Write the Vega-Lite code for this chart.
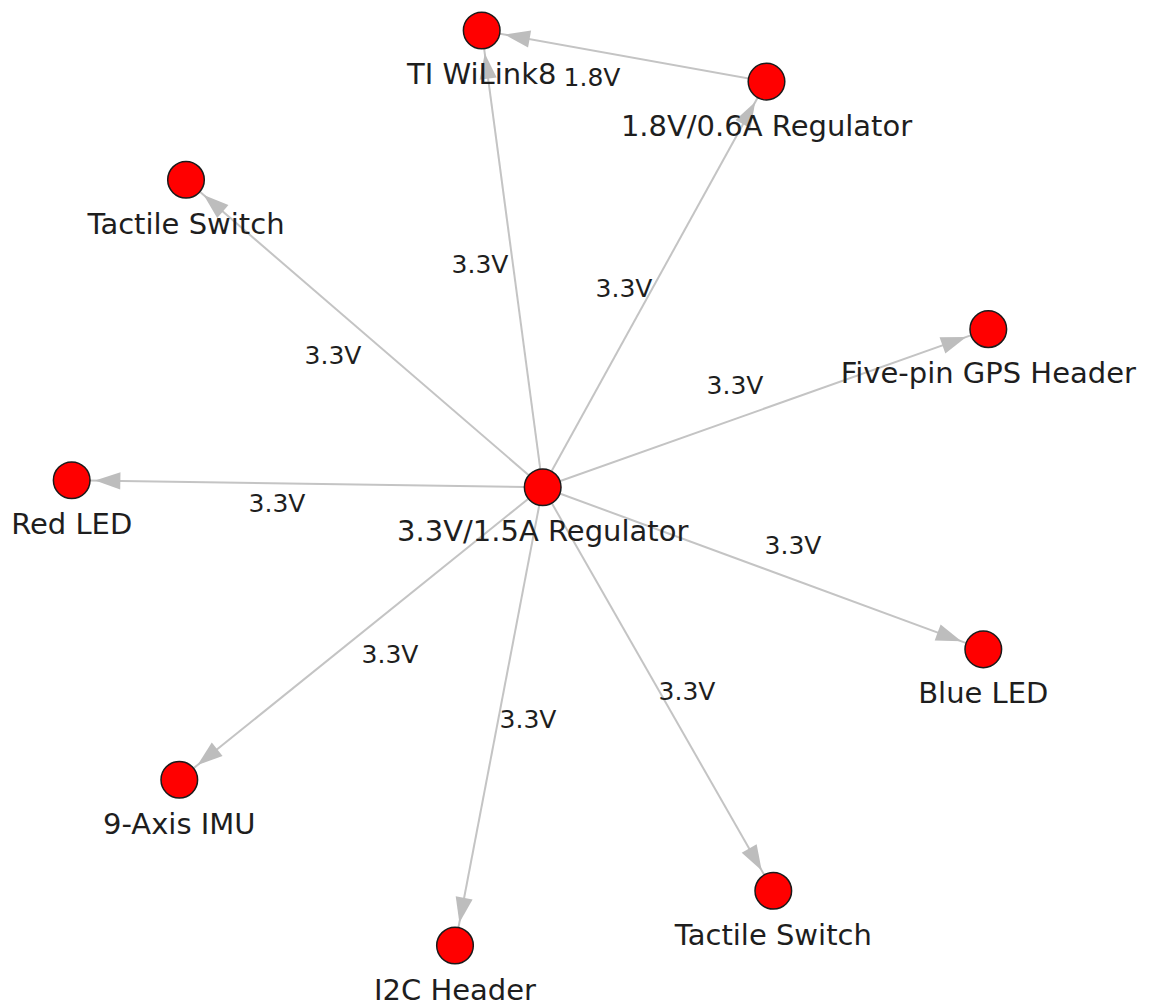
{
  "$schema": "https://vega.github.io/schema/vega-lite/v6.json",
  "width": 1152,
  "height": 1006,
  "autosize": {"type": "fit", "contains": "padding"},
  "padding": 0,
  "background": "white",
  "config": {"view": {"stroke": null}},
  "datasets": {
    "nodes": [
      {"id": "wilink", "label": "TI WiLink8", "x": 481.7, "y": 30.5},
      {"id": "reg18", "label": "1.8V/0.6A Regulator", "x": 766.5, "y": 81.7},
      {"id": "tact1", "label": "Tactile Switch", "x": 186, "y": 180},
      {"id": "gps", "label": "Five-pin GPS Header", "x": 988.3, "y": 329.5},
      {"id": "red", "label": "Red LED", "x": 71.7, "y": 480.7},
      {"id": "reg33", "label": "3.3V/1.5A Regulator", "x": 542.7, "y": 487.7},
      {"id": "blue", "label": "Blue LED", "x": 983.3, "y": 650},
      {"id": "imu", "label": "9-Axis IMU", "x": 179.3, "y": 780.5},
      {"id": "tact2", "label": "Tactile Switch", "x": 773.3, "y": 891.7},
      {"id": "i2c", "label": "I2C Header", "x": 455, "y": 946.5}
    ],
    "edges": [
      {"source": "reg18", "target": "wilink", "label": "1.8V", "lx": 592, "ly": 86},
      {"source": "reg33", "target": "wilink", "label": "3.3V", "lx": 480, "ly": 273},
      {"source": "reg33", "target": "reg18", "label": "3.3V", "lx": 624, "ly": 297},
      {"source": "reg33", "target": "tact1", "label": "3.3V", "lx": 333, "ly": 364},
      {"source": "reg33", "target": "gps", "label": "3.3V", "lx": 735, "ly": 394},
      {"source": "reg33", "target": "red", "label": "3.3V", "lx": 277, "ly": 513},
      {"source": "reg33", "target": "blue", "label": "3.3V", "lx": 793, "ly": 555},
      {"source": "reg33", "target": "imu", "label": "3.3V", "lx": 390, "ly": 664},
      {"source": "reg33", "target": "i2c", "label": "3.3V", "lx": 528, "ly": 729},
      {"source": "reg33", "target": "tact2", "label": "3.3V", "lx": 687, "ly": 701}
    ]
  },
  "layer": [
    {
      "data": {"name": "edges"},
      "transform": [
        {"lookup": "source", "from": {"data": {"name": "nodes"}, "key": "id", "fields": ["x", "y"]}, "as": ["sx", "sy"]},
        {"lookup": "target", "from": {"data": {"name": "nodes"}, "key": "id", "fields": ["x", "y"]}, "as": ["tx", "ty"]}
      ],
      "mark": {"type": "rule", "color": "#c4c4c4", "strokeWidth": 2},
      "encoding": {
        "x": {"field": "sx", "type": "quantitative", "scale": {"domain": [0, 1152], "nice": false, "zero": false}, "axis": null},
        "y": {"field": "sy", "type": "quantitative", "scale": {"domain": [0, 1006], "nice": false, "zero": false, "reverse": true}, "axis": null},
        "x2": {"field": "tx"},
        "y2": {"field": "ty"}
      }
    },
    {
      "data": {"name": "edges"},
      "transform": [
        {"lookup": "source", "from": {"data": {"name": "nodes"}, "key": "id", "fields": ["x", "y"]}, "as": ["sx", "sy"]},
        {"lookup": "target", "from": {"data": {"name": "nodes"}, "key": "id", "fields": ["x", "y"]}, "as": ["tx", "ty"]},
        {"calculate": "sqrt((datum.tx-datum.sx)*(datum.tx-datum.sx)+(datum.ty-datum.sy)*(datum.ty-datum.sy))", "as": "len"},
        {"calculate": "datum.tx-(datum.tx-datum.sx)/datum.len*36", "as": "ax"},
        {"calculate": "datum.ty-(datum.ty-datum.sy)/datum.len*36", "as": "ay"},
        {"calculate": "atan2(datum.tx-datum.sx, datum.sy-datum.ty)*180/PI", "as": "ang"}
      ],
      "mark": {"type": "point", "shape": "M0,-1L-0.68,1L0.68,1Z", "filled": true, "color": "#bdbdbd", "opacity": 1, "size": 640, "strokeWidth": 0},
      "encoding": {
        "x": {"field": "ax", "type": "quantitative"},
        "y": {"field": "ay", "type": "quantitative"},
        "angle": {"field": "ang", "type": "quantitative", "scale": null}
      }
    },
    {
      "data": {"name": "edges"},
      "mark": {"type": "text", "font": "DejaVu Sans", "fontSize": 25, "color": "#1e1e1e", "align": "center", "baseline": "alphabetic"},
      "encoding": {
        "x": {"field": "lx", "type": "quantitative"},
        "y": {"field": "ly", "type": "quantitative"},
        "text": {"field": "label"}
      }
    },
    {
      "data": {"name": "nodes"},
      "mark": {"type": "point", "shape": "circle", "filled": true, "color": "#ff0000", "stroke": "#1a1a1a", "strokeWidth": 1.5, "opacity": 1, "size": 1340},
      "encoding": {
        "x": {"field": "x", "type": "quantitative"},
        "y": {"field": "y", "type": "quantitative"}
      }
    },
    {
      "data": {"name": "nodes"},
      "mark": {"type": "text", "font": "DejaVu Sans", "fontSize": 29, "color": "#1e1e1e", "align": "center", "baseline": "alphabetic", "dy": 54},
      "encoding": {
        "x": {"field": "x", "type": "quantitative"},
        "y": {"field": "y", "type": "quantitative"},
        "text": {"field": "label"}
      }
    }
  ]
}
